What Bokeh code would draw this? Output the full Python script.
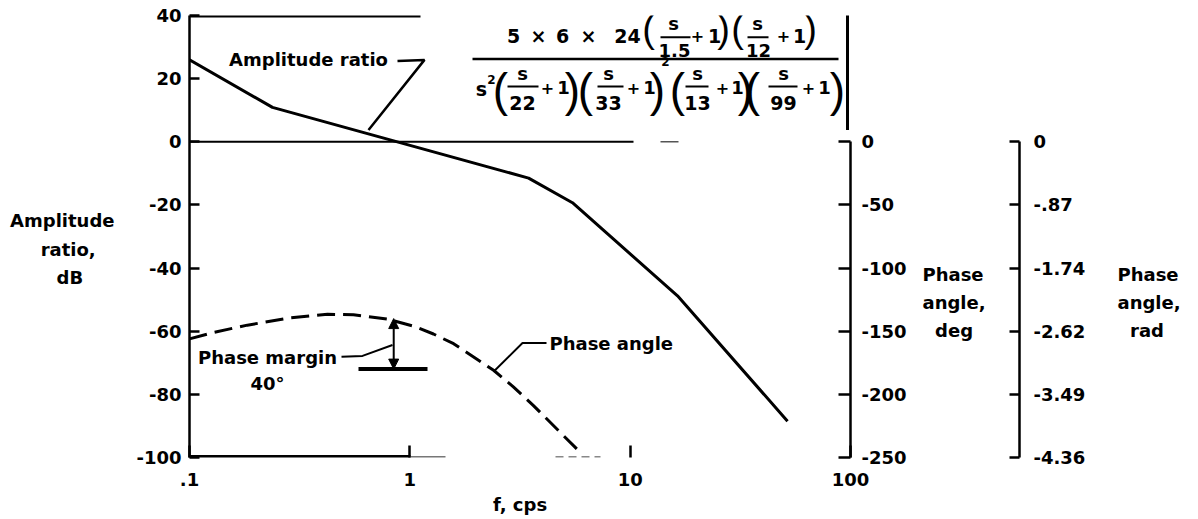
import numpy as np
from bokeh.plotting import figure
from bokeh.models import Range1d, LinearAxis, FixedTicker, Label, Arrow, NormalHead
from bokeh.embed import file_html
from bokeh.resources import INLINE

# ---------------- data ----------------
amp_f = [0.1, 0.238, 3.46, 5.47, 16.4, 51.8]
amp_db = [26.0, 10.9, -11.5, -19.3, -48.8, -88.5]

phase_f = [0.1, 0.128, 0.183, 0.287, 0.423, 0.555, 0.793, 1.04, 1.28, 1.58, 2.40, 2.95, 3.64, 5.77]
phase_deg = [-156.1, -151.0, -145.2, -139.4, -136.6, -137.0, -140.5, -146.0, -152.2, -159.9,
             -180.9, -194.1, -208.9, -243.8]

pm_f = 0.845          # crossover frequency, cps
pm_phase = -140       # phase at crossover, deg
pm_ref = -180         # reference phase, deg

x_ticks = [0.1, 1, 10, 100]
x_tick_labels = [".1", "1", "10", "100"]
db_ticks = [40, 20, 0, -20, -40, -60, -80, -100]
db_tick_labels = ["40", "20", "0", "-20", "-40", "-60", "-80", "-100"]
deg_ticks = [0, -50, -100, -150, -200, -250]
deg_tick_labels = ["0", "-50", "-100", "-150", "-200", "-250"]
rad_tick_labels = ["0", "-.87", "-1.74", "-2.62", "-3.49", "-4.36"]

DEG_PER_DB = 2.5

# ---------------- layout ----------------
FONT = "DejaVu Sans"
W, H = 1196, 517
L, T = 189, 15
FRAME_R, FRAME_B = 850, 463
R, B = W - FRAME_R, H - FRAME_B
FW = FRAME_R - L
FH = FRAME_B - T
X0, X1 = 0.1, 100.0
Y0, Y1 = -100.0, 40.0
NB = "\u00a0"


def fx(px):
    return 10 ** (np.log10(X0) + (px - L) / FW * (np.log10(X1) - np.log10(X0)))


def fy(py):
    return Y1 - (py - T) / FH * (Y1 - Y0)


p = figure(width=W, height=H, x_axis_type="log",
           x_range=Range1d(X0, X1), y_range=Range1d(Y0, Y1),
           output_backend="svg", toolbar_location=None,
           min_border_left=L, min_border_right=R, min_border_top=T, min_border_bottom=B)
p.outline_line_color = None
p.grid.visible = False
p.background_fill_color = "white"
p.border_fill_color = "white"

p.extra_y_ranges = {
    "deg": Range1d(Y0 * DEG_PER_DB, Y1 * DEG_PER_DB),
    "rad": Range1d(np.radians(Y0 * DEG_PER_DB), np.radians(Y1 * DEG_PER_DB)),
}


def style_axis(ax, standoff):
    ax.major_tick_out = 0
    ax.minor_tick_line_color = None
    ax.axis_line_width = 2.5
    ax.major_tick_line_width = 2.5
    ax.major_label_text_font = FONT
    ax.major_label_text_font_style = "bold"
    ax.major_label_text_font_size = "18px"
    ax.major_label_text_color = "black"
    ax.major_label_standoff = standoff
    ax.axis_label_text_font = FONT
    ax.axis_label_text_font_style = "bold"
    ax.axis_label_text_font_size = "18px"
    ax.axis_label_text_color = "black"


def title_axis(range_name, pos, text, standoff, tail=0):
    """An axis that carries only a multi-line title as its single tick label."""
    kw = {} if range_name is None else {"y_range_name": range_name}
    ax = LinearAxis(ticker=FixedTicker(ticks=[pos]), **kw)
    style_axis(ax, standoff)
    ax.axis_line_color = None
    ax.major_tick_line_color = None
    ax.major_tick_in = 0
    ax.major_label_overrides = {pos: text}
    ax.major_label_orientation = "horizontal"
    ax.major_label_text_line_height = 1.35
    if tail:
        ax.axis_label = " "
        ax.axis_label_text_font_size = "1px"
        ax.axis_label_standoff = tail
    return ax


# left dB axis
ya = p.yaxis[0]
ya.ticker = FixedTicker(ticks=db_ticks)
ya.major_label_overrides = dict(zip(db_ticks, db_tick_labels))
style_axis(ya, 8)
ya.major_tick_in = 10
p.add_layout(title_axis(None, float(fy(252)),
                        "Amplitude\nratio," + NB * 3 + "\ndB" + NB * 5, 19), "left")

# bottom frequency axis
xa = p.xaxis[0]
xa.ticker = FixedTicker(ticks=x_ticks)
xa.major_label_overrides = dict(zip(x_ticks, x_tick_labels))
style_axis(xa, 15)
xa.major_tick_in = 12
xa.axis_line_color = None
xa.axis_label = "f, cps"
xa.axis_label_standoff = 5

# right phase axis, degrees
deg_axis = LinearAxis(y_range_name="deg", ticker=FixedTicker(ticks=deg_ticks),
                      bounds=(min(deg_ticks), max(deg_ticks)))
deg_axis.major_label_overrides = dict(zip(deg_ticks, deg_tick_labels))
style_axis(deg_axis, 11)
deg_axis.major_tick_in = 12
p.add_layout(deg_axis, "right")
title_pos_deg = float(fy(306)) * DEG_PER_DB
p.add_layout(title_axis("deg", title_pos_deg, "Phase\nangle,\n" + NB * 2 + "deg", 13, tail=27), "right")

# right phase axis, radians
rad_ticks = [float(np.radians(d)) for d in deg_ticks]
rad_axis = LinearAxis(y_range_name="rad", ticker=FixedTicker(ticks=rad_ticks),
                      bounds=(min(rad_ticks), max(rad_ticks)))
rad_axis.major_label_overrides = dict(zip(rad_ticks, rad_tick_labels))
style_axis(rad_axis, 14)
rad_axis.major_tick_in = 10
p.add_layout(rad_axis, "right")
p.add_layout(title_axis("rad", float(np.radians(title_pos_deg)),
                        "Phase\nangle,\n" + NB * 2 + "rad", 29), "right")

K = "black"


def put(px, py, s, size=18, bold=True, align="center", font=FONT):
    p.add_layout(Label(x=fx(px), y=fy(py), text=s, text_font=font,
                       text_font_size=f"{size}px",
                       text_font_style="bold" if bold else "normal",
                       text_align=align, text_baseline="middle", text_color=K))


def seg(pts, w=2.5):
    p.line([fx(a) for a, b in pts], [fy(b) for a, b in pts], line_width=w, color=K)


# ---------------- frame fragments ----------------
p.line([X0, fx(420)], [Y1, Y1], line_width=4, color=K)                 # top edge
p.line([X0, fx(410)], [Y0, Y0], line_width=5, color=K)                 # bottom edge
p.line([fx(410), fx(445)], [Y0, Y0], line_width=3, color="#777777")
p.line([fx(555), fx(600)], [Y0, Y0], line_width=3, color="#888888", line_dash="8 5")
p.line([X0, fx(633)], [0, 0], line_width=2, color=K)                   # 0 dB line
p.line([fx(660), fx(678)], [0, 0], line_width=1.5, color="#555555")

# ---------------- curves ----------------
p.line(amp_f, amp_db, line_width=3, color=K)
p.line(phase_f, phase_deg, y_range_name="deg", line_width=3, color=K, line_dash="18 8")

# ---------------- phase margin ----------------
p.add_layout(Arrow(x_start=pm_f, y_start=pm_ref, x_end=pm_f, y_end=pm_phase,
                   y_range_name="deg", line_width=2, line_color=K,
                   start=NormalHead(size=10, fill_color=K, line_color=K),
                   end=NormalHead(size=10, fill_color=K, line_color=K)))
p.line([fx(358), fx(427)], [pm_ref, pm_ref], y_range_name="deg", line_width=4, color=K)

# labels and leaders
put(308, 60, "Amplitude ratio")
seg([(397, 61), (424, 60), (368, 131)])
put(267, 362, "Phase margin")
put(267, 388, "40°")
seg([(341, 361), (362, 360), (392, 349)], 2)
put(549, 347, "Phase angle", align="left")
seg([(493, 376), (522, 347), (546, 347)], 2)

# ---------------- transfer function ----------------
num = [(513, "5"), (538, "×"), (562, "6"), (588, "×"), (627, "24"),
       (697, "+"), (714, "1"), (783, "+"), (799, "1")]
for x, s in num:
    put(x, 36, s, 19 if s != "+" else 16)
for x in (648, 737):
    put(x, 29, "(", 38, bold=False, font="Liberation Sans")
for x in (723, 810):
    put(x, 29, ")", 38, bold=False, font="Liberation Sans")
for xc, den, x0, x1 in [(673, "1.5", 660, 690), (757, "12", 747, 768)]:
    put(xc, 23, "s", 18)
    seg([(x0, 37), (x1, 37)], 2)
    put(xc + 1, 50, den, 18)

seg([(472, 59), (838, 59)], 2.5)

put(481, 90, "s", 19)
put(491, 80, "2", 12)
den_groups = [(500, 522, "22", 507, 538, 547, 563, 572),
              (585, 608, "33", 597, 623, 633, 649, 657),
              (677, 697, "13", 685, 708, 722, 737, 745),
              (752, 783, "99", 768, 797, 808, 824, 837)]
for lp, xc, den, b0, b1, xplus, xone, rp in den_groups:
    put(lp, 91, "(", 46, bold=False, font="Liberation Sans")
    put(xc, 74, "s", 18)
    seg([(b0, 87), (b1, 87)], 2)
    put(xc, 104, den, 19)
    put(xplus, 88, "+", 16)
    put(xone, 88, "1", 18)
    put(rp, 91, ")", 46, bold=False, font="Liberation Sans")
put(665, 62, "2", 12)

seg([(847, 12), (847, 131)], 3)   # evaluation bar

open("out.html", "w").write(file_html(p, INLINE))
